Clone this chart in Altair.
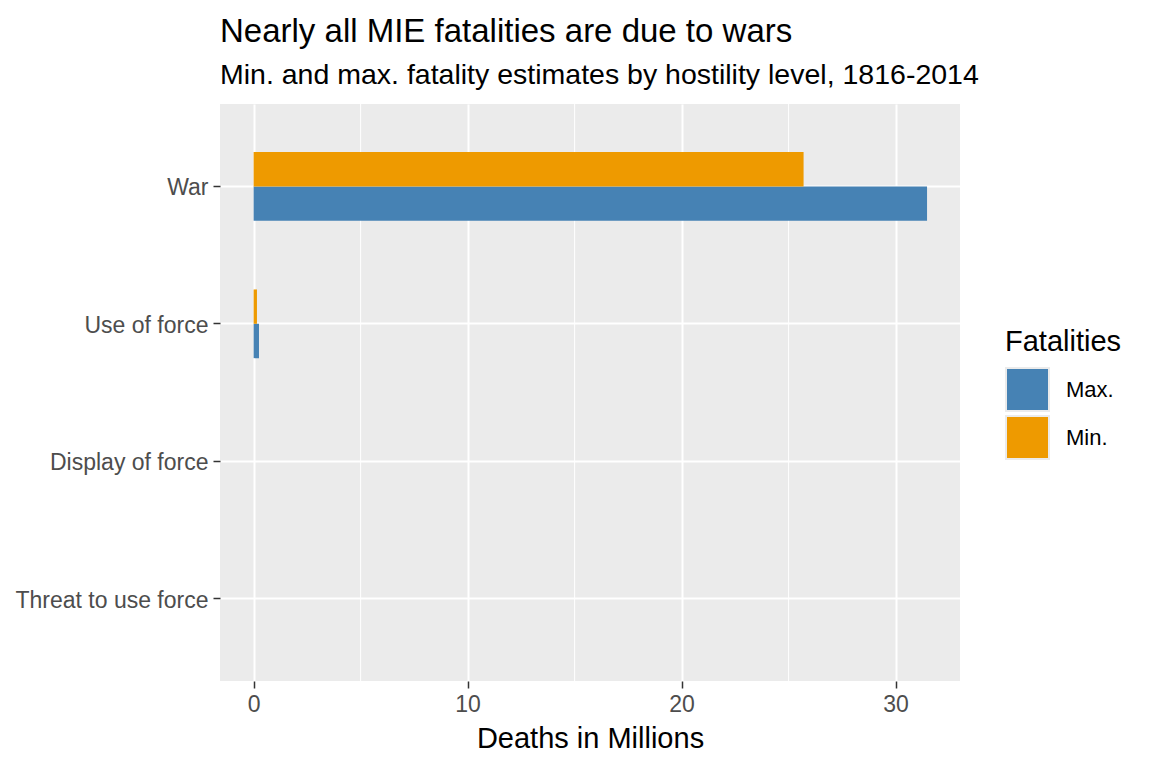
import altair as alt
import pandas as pd

levels = ["War", "Use of force", "Display of force", "Threat to use force"]
max_vals = [31.47, 0.25, 0.0, 0.0]
min_vals = [25.7, 0.155, 0.0, 0.0]
series = ["Max.", "Min."]
colors = ["#4682B4", "#EE9A00"]
x_ticks = [0, 10, 20, 30]
x_minor = [5, 15, 25]

rows = []
for lv, mx, mn in zip(levels, max_vals, min_vals):
    rows.append({"level": lv, "Fatalities": "Max.", "deaths": mx})
    rows.append({"level": lv, "Fatalities": "Min.", "deaths": mn})
df = pd.DataFrame(rows)
minor_df = pd.DataFrame({"v": x_minor})

FONT = "Liberation Sans"
xscale = alt.Scale(domain=[-1.572, 33.01], nice=False, zero=False)

bars = alt.Chart(df).mark_bar().encode(
    x=alt.X("deaths:Q", scale=xscale,
            axis=alt.Axis(values=x_ticks, title="Deaths in Millions", grid=True,
                          gridColor="white", gridWidth=2, domain=False,
                          tickColor="#333333", tickSize=7, tickWidth=1.5,
                          labelFontSize=23, labelColor="#4D4D4D", labelPadding=5,
                          titleFontSize=29, titleColor="black", titleFontWeight="normal",
                          titlePadding=8, labelFont=FONT, titleFont=FONT)),
    x2=alt.datum(0),
    y=alt.Y("level:N", sort=levels,
            scale=alt.Scale(paddingInner=0.5, paddingOuter=0.35),
            axis=alt.Axis(title=None, grid=True, gridColor="white", gridWidth=2,
                          bandPosition=0.5, domain=False, tickColor="#333333",
                          tickSize=7, tickWidth=1.5, labelFontSize=23,
                          labelColor="#4D4D4D", labelPadding=5, labelFont=FONT,
                          labelLimit=400, labelOffset=2)),
    yOffset=alt.YOffset("Fatalities:N", sort=["Min.", "Max."],
                        scale=alt.Scale(paddingInner=0, paddingOuter=0)),
    color=alt.Color("Fatalities:N",
                    scale=alt.Scale(domain=series, range=colors),
                    legend=alt.Legend(title="Fatalities", orient="none",
                                      legendX=785, legendY=224,
                                      symbolType="square", symbolSize=1849,
                                      symbolStrokeColor="#EBEBEB", symbolStrokeWidth=2,
                                      symbolOpacity=1,
                                      titleFontSize=29, titleFontWeight="normal",
                                      titleColor="black", titleFont=FONT,
                                      titlePadding=10,
                                      labelFontSize=22, labelColor="black",
                                      labelFont=FONT, labelOffset=16,
                                      rowPadding=-6)),
)

minor = alt.Chart(minor_df).mark_rule(color="white", strokeWidth=1).encode(
    x=alt.X("v:Q", scale=xscale)
)

chart = alt.layer(minor, bars).properties(
    width=740,
    height=577,
    title=alt.TitleParams(
        text="Nearly all MIE fatalities are due to wars",
        subtitle="Min. and max. fatality estimates by hostility level, 1816-2014",
        anchor="start", frame="group", fontSize=33, subtitleFontSize=28.5,
        font=FONT, subtitleFont=FONT, fontWeight="normal",
        color="black", subtitleColor="black", offset=14, subtitlePadding=12,
    ),
    autosize=alt.AutoSizeParams(type="none"),
    padding={"left": 212, "top": 96, "right": 184, "bottom": 79},
).configure(font=FONT).configure_view(fill="#EBEBEB", stroke=None)

chart.save("out.html", embed_options={"renderer": "svg", "actions": False})
